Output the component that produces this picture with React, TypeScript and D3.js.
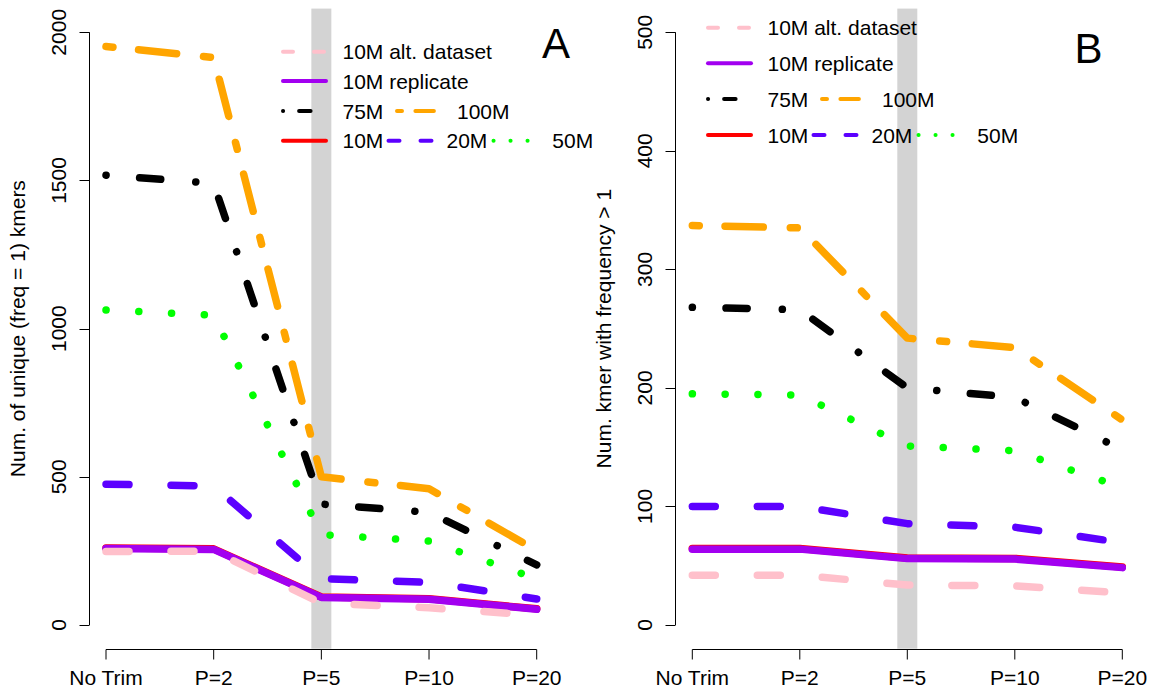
import React from 'react';
import * as d3 from 'd3';

const categories = ['No Trim', 'P=2', 'P=5', 'P=10', 'P=20'];

// panel A: unique (freq = 1) kmers
const uniqueTicks = [0, 500, 1000, 1500, 2000];
const unique10M = [260, 257, 94.5, 88.5, 54.5];
const unique20M = [475, 469, 156, 144, 88];
const unique50M = [1063, 1045, 305, 283, 156];
const unique75M = [1518, 1490, 408, 380, 203];
const unique100M = [1952, 1915, 500, 460, 251];
const uniqueRep = [258, 255, 93, 87, 53];
const uniqueAlt = [248, 249, 74, 58, 33];

// panel B: kmers with frequency > 1
const freqTicks = [0, 100, 200, 300, 400, 500];
const freq10M = [64.5, 64.5, 56.5, 56.2, 49];
const freq20M = [100, 100, 85.5, 82.5, 69.5];
const freq50M = [195, 194, 151, 147, 116];
const freq75M = [268, 266, 200, 192, 148];
const freq100M = [337, 335, 242, 234, 173];
const freqRep = [64, 64, 56, 55.6, 48.4];
const freqAlt = [42, 42, 33.7, 33, 27];

const FONT = 'Liberation Sans, Arial, Helvetica, sans-serif';
const DATA_W = 7.5;
const LEG_W = 4;

const styles = {
  m10: { color: '#ff0000', dash: undefined, legDash: undefined },
  m20: { color: '#5c00ff', dash: '23 42', legDash: '11 21' },
  m50: { color: '#00ff00', dash: '0.1 32.7', legDash: '0.1 16.9' },
  m75: { color: '#000000', dash: '0.1 33.6 21.2 35.1', legDash: '0.1 16 11.5 20' },
  m100: { color: '#ffa500', dash: '7 25.7 38.3 27', legDash: '5 13.4 18.5 20' },
  rep: { color: '#a200f0', dash: undefined, legDash: undefined },
  alt: { color: '#ffc0cb', dash: '23 42', legDash: '10 21' },
};

// legend layout, offsets relative to the legend's left edge
const legendItems = [
  { key: 'alt', row: 0, from: 2, to: 45, textX: 61.5, label: '10M alt. dataset' },
  { key: 'rep', row: 1, from: 2, to: 45, textX: 61.5, label: '10M replicate' },
  { key: 'm75', row: 2, from: 2, to: 30, textX: 61.5, label: '75M' },
  { key: 'm100', row: 2, from: 116, to: 153, textX: 176, label: '100M' },
  { key: 'm10', row: 3, from: 2, to: 45, textX: 61.5, label: '10M' },
  { key: 'm20', row: 3, from: 107.5, to: 150.5, textX: 165.5, label: '20M' },
  { key: 'm50', row: 3, from: 212.5, to: 246.6, textX: 271.3, label: '50M' },
];

type PanelProps = {
  x0: number;
  x1: number;
  axisX: number;
  ticks: number[];
  series: { key: string; values: number[] }[];
  title: string;
  letter: string;
  letterX: number;
  letterY: number;
  legendX: number;
  legendRows: number[];
};

const Panel = ({ x0, x1, axisX, ticks, series, title, letter, letterX, letterY, legendX, legendRows }: PanelProps) => {
  const yMax = ticks[ticks.length - 1];
  const x = d3.scalePoint<string>().domain(categories).range([x0, x1]);
  const y = d3.scaleLinear().domain([0, yMax]).range([625, 32.3]);
  const top = y(yMax * 1.04);
  const bottom = y(-yMax * 0.04);
  const axisY = 649.5;
  const line = d3
    .line<number>()
    .x((d, i) => x(categories[i]) as number)
    .y((d) => y(d));
  const p5 = x('P=5') as number;

  return (
    <g>
      <rect x={p5 - 10} y={top} width={20} height={bottom - top} fill="#d3d3d3" />
      {series.map((s) => (
        <path
          key={s.key}
          d={line(s.values) || ''}
          fill="none"
          stroke={styles[s.key].color}
          strokeWidth={DATA_W}
          strokeLinecap="round"
          strokeLinejoin="round"
          strokeDasharray={styles[s.key].dash}
        />
      ))}

      {/* y axis */}
      <line x1={axisX} x2={axisX} y1={y(0)} y2={y(yMax)} stroke="#000" />
      {ticks.map((t) => (
        <g key={t}>
          <line x1={axisX - 10} x2={axisX} y1={Math.round(y(t)) + 0.5} y2={Math.round(y(t)) + 0.5} stroke="#000" />
          <text
            transform={`translate(${axisX - 23.5}, ${y(t)}) rotate(-90)`}
            textAnchor="middle"
            fontSize={21}
            fontFamily={FONT}
          >
            {t}
          </text>
        </g>
      ))}
      <text
        transform={`translate(${axisX - 64.5}, ${(top + bottom) / 2}) rotate(-90)`}
        textAnchor="middle"
        fontSize={21}
        fontFamily={FONT}
      >
        {title}
      </text>

      {/* x axis */}
      <line x1={x0} x2={x1} y1={axisY} y2={axisY} stroke="#000" />
      {categories.map((c) => (
        <g key={c}>
          <line x1={x(c)} x2={x(c)} y1={axisY} y2={axisY + 10} stroke="#000" />
          <text x={x(c)} y={685} textAnchor="middle" fontSize={21} fontFamily={FONT}>
            {c}
          </text>
        </g>
      ))}

      {/* legend */}
      {legendItems.map((it) => {
        const ly = legendRows[it.row];
        return (
          <g key={it.key}>
            <line
              x1={legendX + it.from}
              x2={legendX + it.to}
              y1={ly}
              y2={ly}
              stroke={styles[it.key].color}
              strokeWidth={LEG_W}
              strokeLinecap="round"
              strokeDasharray={styles[it.key].legDash}
            />
            <text x={legendX + it.textX} y={ly + 7.5} fontSize={21} fontFamily={FONT}>
              {it.label}
            </text>
          </g>
        );
      })}

      <text x={letterX} y={letterY} textAnchor="middle" fontSize={42} fontFamily={FONT}>
        {letter}
      </text>
    </g>
  );
};

export default function App() {
  const seriesA = [
    { key: 'm10', values: unique10M },
    { key: 'm20', values: unique20M },
    { key: 'm50', values: unique50M },
    { key: 'm75', values: unique75M },
    { key: 'm100', values: unique100M },
    { key: 'rep', values: uniqueRep },
    { key: 'alt', values: uniqueAlt },
  ];
  const seriesB = [
    { key: 'm10', values: freq10M },
    { key: 'm20', values: freq20M },
    { key: 'm50', values: freq50M },
    { key: 'm75', values: freq75M },
    { key: 'm100', values: freq100M },
    { key: 'rep', values: freqRep },
    { key: 'alt', values: freqAlt },
  ];

  return (
    <svg
      width={1153}
      height={692}
      style={{ position: 'absolute', left: 0, top: 0, background: '#fff' }}
    >
      <rect width={1153} height={692} fill="#fff" />
      <Panel
        x0={106}
        x1={536.7}
        axisX={89.5}
        ticks={uniqueTicks}
        series={seriesA}
        title="Num. of unique (freq = 1) kmers"
        letter="A"
        letterX={556}
        letterY={58.3}
        legendX={281}
        legendRows={[51.7, 81, 111, 140.7]}
      />
      <Panel
        x0={692.3}
        x1={1122.3}
        axisX={675.5}
        ticks={freqTicks}
        series={seriesB}
        title="Num. kmer with frequency > 1"
        letter="B"
        letterX={1088.6}
        letterY={63.3}
        legendX={706}
        legendRows={[27.7, 63.3, 99, 135]}
      />
    </svg>
  );
}
